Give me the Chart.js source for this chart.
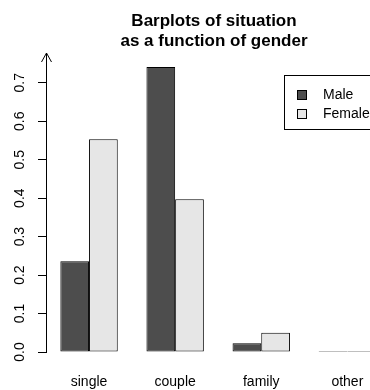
<!DOCTYPE html>
<html>
<head>
<meta charset="utf-8">
<script src="https://cdn.jsdelivr.net/npm/chart.js@4"></script>
<style>
html, body { margin: 0; padding: 0; overflow: hidden; background: #fff; }
</style>
</head>
<body>
<canvas id="barCanvas" width="400" height="390"></canvas>
<script>
// Données
const situations = ["single", "couple", "family", "other"];
const male = [0.236, 0.741, 0.023, 0];
const female = [0.553, 0.397, 0.050, 0];
const yTicks = [0, 0.1, 0.2, 0.3, 0.4, 0.5, 0.6, 0.7];
const titleLines = ["Barplots of situation", "as a function of gender"];

const fontFamily = "'Liberation Sans', Arial, sans-serif";
Chart.defaults.font.family = fontFamily;
Chart.defaults.font.size = 14;
Chart.defaults.color = "#000";

// titre sur deux lignes, centré comme dans R
const titlePlugin = {
    id: "rTitle",
    afterDraw(chart) {
        const ctx = chart.ctx;
        ctx.save();
        ctx.font = "bold 17px " + fontFamily;
        ctx.fillStyle = "#000";
        ctx.textAlign = "center";
        ctx.textBaseline = "alphabetic";
        ctx.fillText(titleLines[0], 214, 26);
        ctx.fillText(titleLines[1], 214, 46);
        ctx.restore();
    },
};

// flèche en haut de l'axe y
const arrowPlugin = {
    id: "yArrow",
    afterDraw(chart) {
        const ctx = chart.ctx;
        const x = Math.round(chart.chartArea.left) + 0.5;
        const top = chart.chartArea.top;
        ctx.save();
        ctx.strokeStyle = "#000";
        ctx.lineWidth = 1;
        ctx.beginPath();
        ctx.moveTo(x - 5, top + 9);
        ctx.lineTo(x, top);
        ctx.lineTo(x + 5, top + 9);
        ctx.stroke();
        ctx.restore();
    },
};

// légende encadrée façon R
const legendPlugin = {
    id: "rLegend",
    afterDraw(chart) {
        const ctx = chart.ctx;
        ctx.save();
        ctx.strokeStyle = "#000";
        ctx.lineWidth = 1;
        ctx.strokeRect(284.5, 75.5, 200, 54);
        ctx.font = "14px " + fontFamily;
        ctx.textBaseline = "alphabetic";
        ctx.textAlign = "left";
        chart.data.datasets.forEach((ds, i) => {
            const sy = 90 + i * 19;
            ctx.fillStyle = ds.backgroundColor;
            ctx.fillRect(297.5, sy + 0.5, 9, 9);
            ctx.strokeRect(297.5, sy + 0.5, 9, 9);
            ctx.fillStyle = "#000";
            ctx.fillText(ds.label, 323, sy + 9);
        });
        ctx.restore();
    },
};

const barCanvas = document.getElementById("barCanvas");

const barChart = new Chart(barCanvas, {
    type: "bar",
    data: {
        labels: situations,
        datasets: [
            {
                label: "Male",
                data: male,
                backgroundColor: "#4d4d4d",
                borderColor: "#000",
                borderWidth: 1,
                borderSkipped: false,
                minBarLength: 1,
                categoryPercentage: 2 / 3,
                barPercentage: 1,
            },
            {
                label: "Female",
                data: female,
                backgroundColor: "#e6e6e6",
                borderColor: "#000",
                borderWidth: 1,
                borderSkipped: false,
                minBarLength: 1,
                categoryPercentage: 2 / 3,
                barPercentage: 1,
            },
        ],
    },
    options: {
        responsive: false,
        animation: false,
        layout: {
            // le bas négatif compense le double padding des ticks de l'axe x
            padding: { left: 4.6, top: 53, right: 9.6, bottom: -22 },
        },
        plugins: {
            legend: { display: false },
            tooltip: { enabled: false },
            title: { display: false },
        },
        scales: {
            x: {
                grid: { display: false, drawTicks: false },
                border: { display: false },
                ticks: { padding: 21.6, font: { size: 14 } },
            },
            y: {
                min: 0,
                max: 0.7775,
                afterBuildTicks: (scale) => {
                    scale.ticks = yTicks.map((v) => ({ value: v }));
                },
                grid: {
                    drawOnChartArea: false,
                    tickLength: 8,
                    color: "#000",
                },
                border: { color: "#000" },
                ticks: {
                    minRotation: 90,
                    maxRotation: 90,
                    crossAlign: "center",
                    padding: 8.3,
                    font: { size: 14 },
                    callback: (v) => Number(v).toFixed(1),
                },
            },
        },
    },
    plugins: [titlePlugin, arrowPlugin, legendPlugin],
})
</script>
</body>
</html>
